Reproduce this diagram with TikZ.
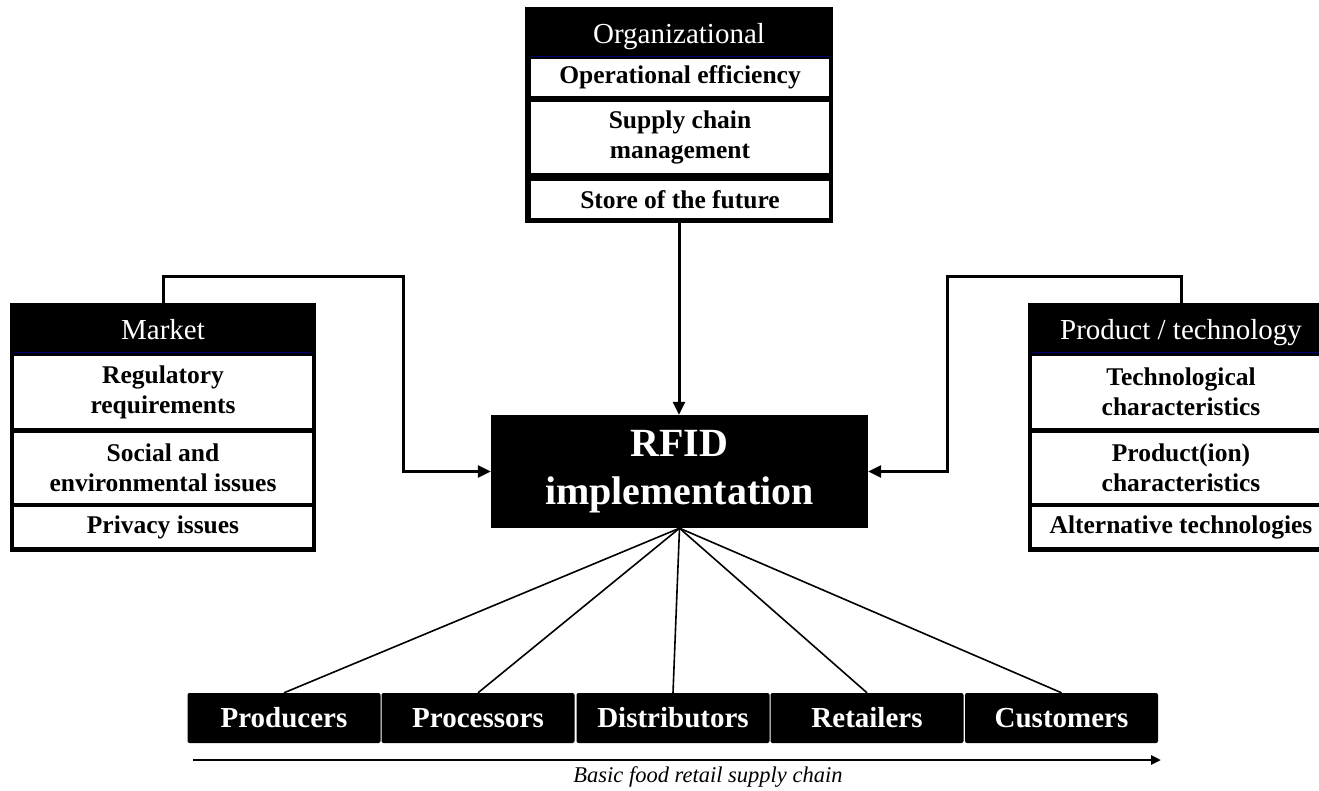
\documentclass[tikz,border=0pt]{standalone}
\usepackage{fontspec}
\setmainfont{Liberation Serif}
\usetikzlibrary{arrows.meta}
\begin{document}
\begin{tikzpicture}[x=1pt,y=-1pt,
  blk/.style={fill=black,draw=none,inner sep=0pt},
  hdr/.style={text=white,inner sep=0pt,anchor=base,font=\fontsize{29}{34}\selectfont},
  row/.style={fill=white,draw=none,inner sep=0pt,align=center,font=\bfseries\fontsize{25.5}{30}\selectfont},
  chainbox/.style={fill=black,draw=none,rounded corners=2pt,minimum width=193pt,minimum height=50pt,inner sep=0pt,text=white,font=\bfseries\fontsize{29}{34}\selectfont},
  hline/.style={draw=blue!45!black,line width=1pt},
  conn/.style={line width=3pt},
  tip/.style={-{Triangle[length=13pt,width=12pt]}},
  fan/.style={line width=1.6pt}
]
\useasboundingbox (0,0) rectangle (1319,791);
\fill[white] (0,0) rectangle (1319,791);

% Organizational
\node[blk,minimum width=308pt,minimum height=216pt] (org) at (679,115) {};
\node[hdr] (orgh) at (679,44) {Organizational};
\draw[hline] (531,57) -- (829,57);
\node[row,minimum width=298pt,minimum height=37pt] (org1) at (680,77.5) {Operational efficiency};
\node[row,minimum width=298pt,minimum height=71pt] (org2) at (680,137.5) {Supply chain\\management};
\node[row,minimum width=298pt,minimum height=37pt] (org3) at (680,199.5) {Store of the future};

% Market
\node[blk,minimum width=306pt,minimum height=249pt] (mk) at (163,427.5) {};
\node[hdr] (mkh) at (163,339) {Market};
\draw[hline] (14,352) -- (312,352);
\node[row,minimum width=298pt,minimum height=72pt] (mk1) at (163,392) {Regulatory\\requirements};
\node[row,minimum width=298pt,minimum height=70pt] (mk2) at (163,468) {Social and\\environmental issues};
\node[row,minimum width=298pt,minimum height=40pt] (mk3) at (163,527) {Privacy issues};

% Product / technology
\node[blk,minimum width=306pt,minimum height=249pt] (pt) at (1181,427.5) {};
\node[hdr] (pth) at (1181,339) {Product / technology};
\draw[hline] (1032,352) -- (1330,352);
\node[row,minimum width=298pt,minimum height=72pt] (pt1) at (1181,392) {Technological\\characteristics};
\node[row,minimum width=298pt,minimum height=70pt] (pt2) at (1181,468) {Product(ion)\\characteristics};
\node[row,minimum width=298pt,minimum height=40pt] (pt3) at (1181,527) {Alternative technologies};

% RFID
\node[blk,minimum width=377pt,minimum height=113pt,text=white,align=center,
      font=\bfseries\fontsize{40}{48}\selectfont] (rfid) at (679.5,471.5) {RFID\\implementation};

% Supply chain
\node[chainbox] (c1) at (284,718) {Producers};
\node[chainbox] (c2) at (478,718) {Processors};
\node[chainbox] (c3) at (673,718) {Distributors};
\node[chainbox] (c4) at (867,718) {Retailers};
\node[chainbox] (c5) at (1061.5,718) {Customers};

% connectors
\coordinate (mkbend) at (403,277);
\coordinate (ptbend) at (947,277);
\draw[conn,tip] (mk.north) |- (mkbend) |- (rfid.west);
\draw[conn,tip] (pt.north) |- (ptbend) |- (rfid.east);
\draw[conn,tip] (org.south) -- (org.south |- rfid.north);

\coordinate (fanpt) at (rfid.south);
\foreach \c in {c1,c2,c3,c4,c5} \draw[fan] (fanpt) -- (\c.north);

% chain arrow
\coordinate (s0) at (193,760);
\coordinate (s1) at (1161,760);
\draw[line width=2.5pt,-{Triangle[length=10pt,width=9pt]}] (s0) -- (s1);
\node[font=\itshape\fontsize{22.5}{26}\selectfont,inner sep=0pt] (cap) at (708,777) {Basic food retail supply chain};
\end{tikzpicture}
\end{document}
